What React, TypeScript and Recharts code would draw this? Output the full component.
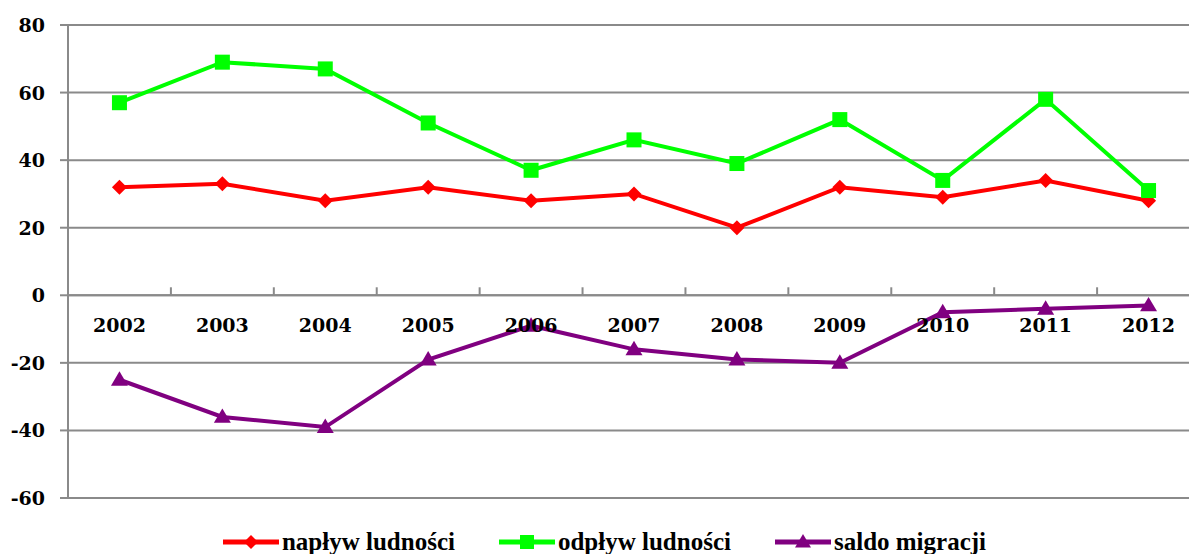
import React from 'react';
import { LineChart, Line, XAxis, YAxis, CartesianGrid, ReferenceLine } from 'recharts';

const years = ['2002', '2003', '2004', '2005', '2006', '2007', '2008', '2009', '2010', '2011', '2012'];
const naplyw = [32, 33, 28, 32, 28, 30, 20, 32, 29, 34, 28];
const odplyw = [57, 69, 67, 51, 37, 46, 39, 52, 34, 58, 31];
const saldo = [-25, -36, -39, -19, -9, -16, -19, -20, -5, -4, -3];
const yTicks = [-60, -40, -20, 0, 20, 40, 60, 80];
const seriesNames = ['napływ ludności', 'odpływ ludności', 'saldo migracji'];
const colors = ['#FF0000', '#00FF00', '#800080'];

const data = years.map((y, i) => ({ year: y, naplyw: naplyw[i], odplyw: odplyw[i], saldo: saldo[i] }));

const W = 1189;
const H = 554;
const CW = 1200;
const XH = 1;
const M = { top: 25, right: 0, bottom: 56 - XH, left: 8 };
const YW = 60;
const plotLeft = M.left + YW;
const plotW = CW - M.right - plotLeft;
const plotH = H - M.top - M.bottom - XH;
const half = plotW / years.length / 2;
const yMin = -60;
const yMax = 80;
const zeroY = M.top + ((yMax - 0) / (yMax - yMin)) * plotH;
const axisFont = "'DejaVu Serif', 'Liberation Serif', serif";
const gridColor = '#8a8a8a';

const Diamond = (props: any) => {
  const { cx, cy } = props;
  if (cx == null || cy == null) return null;
  const r = 7.5;
  return <polygon points={`${cx},${cy - r} ${cx + r},${cy} ${cx},${cy + r} ${cx - r},${cy}`} fill={colors[0]} />;
};
const Square = (props: any) => {
  const { cx, cy } = props;
  if (cx == null || cy == null) return null;
  const s = 15;
  return <rect x={cx - s / 2} y={cy - s / 2} width={s} height={s} fill={colors[1]} />;
};
const Triangle = (props: any) => {
  const { cx, cy } = props;
  if (cx == null || cy == null) return null;
  const r = 8.5;
  return <polygon points={`${cx},${cy - r} ${cx + r},${cy + r * 0.7} ${cx - r},${cy + r * 0.7}`} fill={colors[2]} />;
};

const XTick = (props: any) => {
  const { x, index, payload } = props;
  return (
    <g>
      {index > 0 && <line x1={x - half} x2={x - half} y1={zeroY - 8} y2={zeroY} stroke={gridColor} strokeWidth={2} />}
      <text x={x} y={zeroY + 37} textAnchor="middle" style={{ fontFamily: axisFont, fontWeight: 700, fontSize: 19 }} fill="#000">
        {payload.value}
      </text>
    </g>
  );
};

const YTick = (props: any) => {
  const { x, y, payload } = props;
  return (
    <text x={x - 13} y={y + 7} textAnchor="end" style={{ fontFamily: axisFont, fontWeight: 700, fontSize: 19 }} fill="#000">
      {payload.value}
    </text>
  );
};

const markerIcon = (i: number) => {
  const cx = 28, cy = 12;
  let m: React.ReactNode = null;
  if (i === 0) m = <polygon points={`${cx},${cy - 7} ${cx + 7},${cy} ${cx},${cy + 7} ${cx - 7},${cy}`} fill={colors[0]} />;
  if (i === 1) m = <rect x={cx - 7} y={cy - 7} width={14} height={14} fill={colors[1]} />;
  if (i === 2) m = <polygon points={`${cx},${cy - 8} ${cx + 8},${cy + 5.6} ${cx - 8},${cy + 5.6}`} fill={colors[2]} />;
  return (
    <svg width={56} height={24} style={{ display: 'block' }}>
      <line x1={0} x2={56} y1={cy} y2={cy} stroke={colors[i]} strokeWidth={5} />
      {m}
    </svg>
  );
};

export default function App() {
  return (
    <div style={{ position: 'absolute', left: 0, top: 0, width: W, height: H, background: '#fff', overflow: 'hidden' }}>
      <LineChart width={CW} height={H} data={data} margin={M}>
        <CartesianGrid vertical={false} stroke={gridColor} strokeWidth={2} />
        <XAxis
          dataKey="year"
          height={XH}
          padding={{ left: half, right: half }}
          axisLine={false}
          tickLine={false}
          tick={<XTick />}
          interval={0}
        />
        <YAxis
          width={YW}
          domain={[yMin, yMax]}
          ticks={yTicks}
          interval={0}
          axisLine={{ stroke: gridColor, strokeWidth: 2 }}
          tickLine={{ stroke: gridColor, strokeWidth: 2 }}
          tickSize={8}
          tick={<YTick />}
        />
        <ReferenceLine y={0} stroke={gridColor} strokeWidth={2} />
        <Line dataKey="naplyw" name={seriesNames[0]} stroke={colors[0]} strokeWidth={4} dot={<Diamond />} activeDot={false} isAnimationActive={false} />
        <Line dataKey="odplyw" name={seriesNames[1]} stroke={colors[1]} strokeWidth={4} dot={<Square />} activeDot={false} isAnimationActive={false} />
        <Line dataKey="saldo" name={seriesNames[2]} stroke={colors[2]} strokeWidth={4} dot={<Triangle />} activeDot={false} isAnimationActive={false} />
      </LineChart>
      <div
        style={{
          position: 'absolute',
          left: 10,
          top: 530,
          width: W,
          display: 'flex',
          justifyContent: 'center',
          gap: 44,
          fontFamily: "'Liberation Serif', 'DejaVu Serif', serif",
          fontWeight: 'bold',
          fontSize: 25,
          lineHeight: '24px',
        }}
      >
        {seriesNames.map((n, i) => (
          <div key={n} style={{ display: 'flex', alignItems: 'center', gap: 3 }}>
            {markerIcon(i)}
            <span>{n}</span>
          </div>
        ))}
      </div>
    </div>
  );
}
